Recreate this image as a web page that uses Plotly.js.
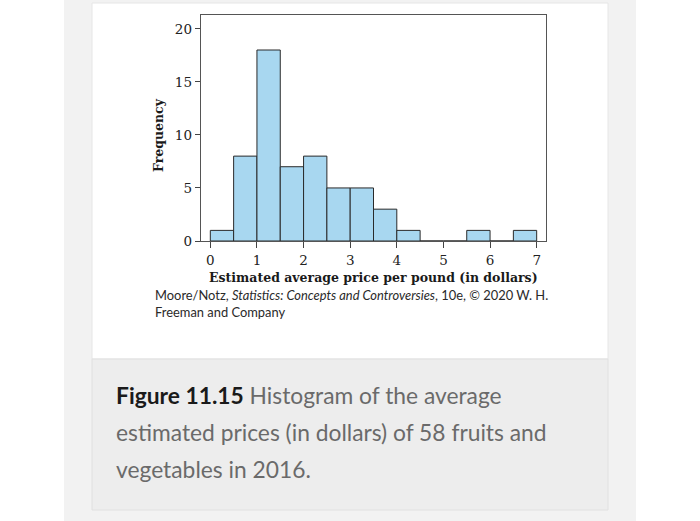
<!DOCTYPE html>
<html>
<head>
<meta charset="utf-8">
<script src="https://cdn.plot.ly/plotly-3.0.1.min.js"></script>
<style>html,body{margin:0;padding:0;background:#fff;}#chart{width:700px;height:521px;}</style>
</head>
<body>
<div id="chart"></div>
<script>
// Data: histogram of estimated average price per pound (bins of width 0.5)
const binLeft = [0, 0.5, 1, 1.5, 2, 2.5, 3, 3.5, 4, 4.5, 5, 5.5, 6, 6.5];
const counts  = [1, 8, 18, 7, 8, 5, 5, 3, 1, 0, 0, 1, 0, 1];
const xTicks = [0, 1, 2, 3, 4, 5, 6, 7];
const yTicks = [0, 5, 10, 15, 20];
const xTitle = "Estimated average price per pound (in dollars)";
const yTitle = "Frequency";
const sourceLines = [
  "Moore/Notz, <i>Statistics: Concepts and Controversies</i>, 10e, \u00a9 2020 W. H.",
  "Freeman and Company"
];
const captionLines = [
  "<b><span style='color:#1a1a1a'>Figure 11.15</span></b> Histogram of the average",
  "estimated prices (in dollars) of 58 fruits and",
  "vegetables in 2016."
];

// plot area in pixels
const L = 201, R = 546, T = 15, B = 241;
const W = 700, H = 521;
const px = v => (v - L) / (R - L);
const py = v => (B - v) / (B - T);

const serif = "DejaVu Serif, Liberation Serif, serif";
const sans = "Lato, Open Sans, Noto Sans, sans-serif";

const trace = {
  type: 'bar',
  x: binLeft,
  y: counts,
  width: 0.5,
  offset: 0,
  marker: {color: '#a8d7f0', line: {color: '#2a2a2a', width: 1}},
  hoverinfo: 'none'
};

const shapes = [
  {type:'rect', xref:'paper', yref:'paper', layer:'below', x0:px(64), x1:px(636), y0:py(0), y1:py(521), fillcolor:'#f2f2f2', line:{width:0}},
  {type:'rect', xref:'paper', yref:'paper', layer:'below', x0:px(92), x1:px(608), y0:py(3), y1:py(359), fillcolor:'#ffffff', line:{color:'#e6e6e6', width:1}},
  {type:'rect', xref:'paper', yref:'paper', layer:'below', x0:px(92), x1:px(608), y0:py(359), y1:py(510), fillcolor:'#ededed', line:{color:'#e0e0e0', width:1}}
];

const annotations = [
  {xref:'paper', yref:'paper', x:px(158), y:py(135), text:'<b>'+yTitle+'</b>', showarrow:false, textangle:-90, xanchor:'center', yanchor:'middle', font:{family:serif, size:12.5, color:'#1a1a1a'}},
  {xref:'paper', yref:'paper', x:px(373), y:py(277), text:'<b>'+xTitle+'</b>', showarrow:false, xanchor:'center', yanchor:'middle', font:{family:serif, size:12.5, color:'#1a1a1a'}},
  {xref:'paper', yref:'paper', x:px(153), y:py(295), text:sourceLines[0], showarrow:false, xanchor:'left', yanchor:'middle', font:{family:sans, size:12.9, color:'#2a2a2a'}},
  {xref:'paper', yref:'paper', x:px(153), y:py(312), text:sourceLines[1], showarrow:false, xanchor:'left', yanchor:'middle', font:{family:sans, size:12.9, color:'#2a2a2a'}},
  {xref:'paper', yref:'paper', x:px(114), y:py(395), text:captionLines[0], showarrow:false, xanchor:'left', yanchor:'middle', font:{family:sans, size:22.8, color:'#6a6a6a'}},
  {xref:'paper', yref:'paper', x:px(114), y:py(432), text:captionLines[1], showarrow:false, xanchor:'left', yanchor:'middle', font:{family:sans, size:22.8, color:'#6a6a6a'}},
  {xref:'paper', yref:'paper', x:px(114), y:py(469), text:captionLines[2], showarrow:false, xanchor:'left', yanchor:'middle', font:{family:sans, size:22.8, color:'#6a6a6a'}}
];

const layout = {
  width: W, height: H,
  margin: {l: L, r: W - R, t: T, b: H - B, pad: 0},
  paper_bgcolor: '#ffffff',
  plot_bgcolor: 'rgba(0,0,0,0)',
  showlegend: false,
  bargap: 0,
  xaxis: {
    range: [-0.2, 7.2], tickvals: xTicks, ticktext: xTicks.map(String),
    ticks: 'outside', ticklen: 6, tickwidth: 1, tickcolor: '#444',
    showline: true, mirror: true, linecolor: '#555', linewidth: 1.3,
    showgrid: false, zeroline: false,
    tickfont: {family: serif, size: 13.5, color: '#222'}
  },
  yaxis: {
    range: [0, 21.3], tickvals: yTicks, ticktext: yTicks.map(String),
    ticks: 'outside', ticklen: 5, tickwidth: 1, tickcolor: '#444',
    showline: true, mirror: true, linecolor: '#555', linewidth: 1.3,
    showgrid: false, zeroline: false,
    tickfont: {family: serif, size: 13.5, color: '#222'}
  },
  shapes: shapes,
  annotations: annotations
};

Plotly.newPlot('chart', [trace], layout, {displayModeBar: false, staticPlot: true});
</script>
</body>
</html>
